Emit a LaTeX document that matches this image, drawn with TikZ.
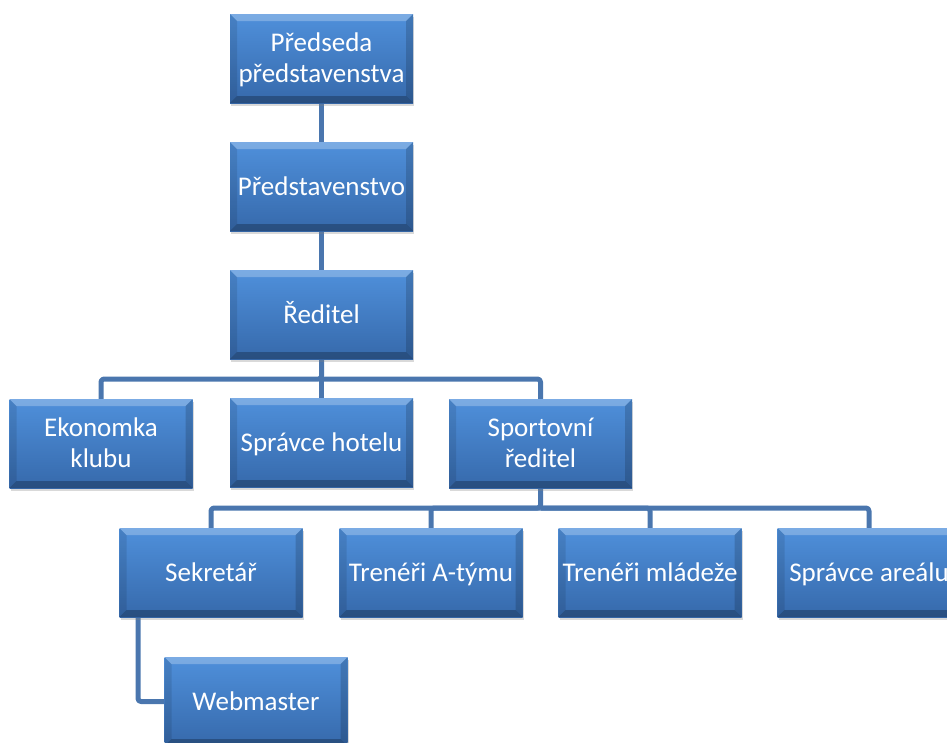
\documentclass[tikz,border=0pt]{standalone}
\usepackage{fontspec}
\setmainfont{Carlito}
\usetikzlibrary{shadows,backgrounds}
\definecolor{boxtop}{HTML}{4F90DB}
\definecolor{boxbot}{HTML}{3669AB}
\definecolor{linkc}{HTML}{4A76AE}
% uniform line strut so every label sits on the same baseline grid
\newcommand\lstrut{\rule[-7pt]{0pt}{31pt}}
\tikzset{
  orgbox/.style={minimum width=183pt, minimum height=89pt, inner sep=0pt,
    align=center, text=white, font=\fontsize{27}{31}\selectfont,
    top color=boxtop, bottom color=boxbot,
    drop shadow={opacity=0.3, shadow xshift=1pt, shadow yshift=-3pt},
    path picture={
      \fill[white, opacity=0.25] (path picture bounding box.north west) -- (path picture bounding box.north east)
        -- ([xshift=-7pt,yshift=-7pt]path picture bounding box.north east) -- ([xshift=7pt,yshift=-7pt]path picture bounding box.north west) -- cycle;
      \fill[black, opacity=0.25] (path picture bounding box.south west) -- (path picture bounding box.south east)
        -- ([xshift=-7pt,yshift=7pt]path picture bounding box.south east) -- ([xshift=7pt,yshift=7pt]path picture bounding box.south west) -- cycle;
      \fill[black, opacity=0.10] (path picture bounding box.north west) -- ([xshift=7pt,yshift=-7pt]path picture bounding box.north west)
        -- ([xshift=7pt,yshift=7pt]path picture bounding box.south west) -- (path picture bounding box.south west) -- cycle;
      \fill[black, opacity=0.16] (path picture bounding box.north east) -- ([xshift=-7pt,yshift=-7pt]path picture bounding box.north east)
        -- ([xshift=-7pt,yshift=7pt]path picture bounding box.south east) -- (path picture bounding box.south east) -- cycle;
    }},
  link/.style={draw=linkc, line width=5pt, line join=round, rounded corners=3pt}
}
\begin{document}
\begin{tikzpicture}[x=1pt, y=-1pt]
\useasboundingbox (0,0) rectangle (947,742);
\clip (0,0) rectangle (947,742);
% bus levels
\coordinate (bus1) at (0,379);
\coordinate (bus2) at (0,508);
% boxes
\node[orgbox] (chair) at (321.5,58.5) {\lstrut Předseda\\\lstrut představenstva};
\node[orgbox] (board) at (321.5,186.5) {\lstrut Představenstvo};
\node[orgbox] (dir) at (321.5,314.5) {\lstrut Ředitel};
\node[orgbox] (eco) at (101,443.5) {\lstrut Ekonomka\\\lstrut klubu};
\node[orgbox] (hotel) at (321.5,442.5) {\lstrut Správce hotelu};
\node[orgbox] (sport) at (540.5,443.5) {\lstrut Sportovní\\\lstrut ředitel};
\node[orgbox] (sec) at (211,572.5) {\lstrut Sekretář};
\node[orgbox] (coachA) at (431,572.5) {\lstrut Trenéři A-týmu};
\node[orgbox] (coachY) at (650,572.5) {\lstrut Trenéři mládeže};
\node[orgbox] (venue) at (869,572.5) {\lstrut Správce areálu};
\node[orgbox] (web) at (256,701.5) {\lstrut Webmaster};
% links drawn behind the boxes
\begin{scope}[on background layer]
\draw[link] (chair.south) -- (board.north);
\draw[link] (board.south) -- (dir.north);
\draw[link] (dir.south) -- (dir.south |- bus1) -| (eco.north);
\draw[link] (dir.south) -- (hotel.north);
\draw[link] (dir.south |- bus1) -| (sport.north);
\draw[link] (sport.south) -- (sport.south |- bus2) -| (sec.north);
\draw[link] (sport.south |- bus2) -| (coachA.north);
\draw[link] (sport.south |- bus2) -| (coachY.north);
\draw[link] (sport.south |- bus2) -| (venue.north);
\draw[link] ([xshift=-73pt]sec.south) |- (web.west);
\end{scope}
\end{tikzpicture}
\end{document}
